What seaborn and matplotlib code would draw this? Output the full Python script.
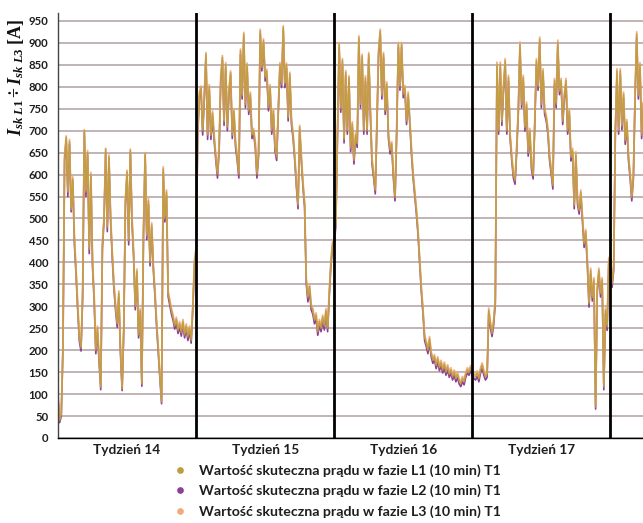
import numpy as np
import pandas as pd
import matplotlib
matplotlib.use("Agg")
import matplotlib.pyplot as plt
from matplotlib.lines import Line2D
import seaborn as sns

# RMS phase currents, 10-minute log resampled to 2-hour steps (84 samples per week)
weeks = ["Tydzień 14", "Tydzień 15", "Tydzień 16", "Tydzień 17"]
samples_per_week = 84

phase_l1 = [
    # week 14
    95, 40, 55, 210, 640, 685, 560, 675, 520, 590, 450, 380,
    300, 230, 205, 330, 700, 560, 650, 430, 600, 400, 320, 200,
    250, 180, 115, 440, 500, 658, 480, 640, 500, 420, 350, 300,
    260, 330, 200, 112, 250, 540, 606, 450, 655, 500, 420, 300,
    380, 235, 290, 123, 470, 648, 460, 540, 400, 485, 390, 330,
    260, 200, 140, 82, 613, 500, 560, 330, 310, 290, 275, 255,
    270, 245, 260, 240, 265, 235, 255, 230, 250, 222, 300, 400,
    # week 15
    430, 700, 783, 798, 700, 780, 874, 690, 800, 689, 740, 685,
    640, 601, 660, 820, 867, 720, 851, 708, 790, 832, 690, 745,
    670, 640, 601, 882, 780, 920, 760, 850, 745, 783, 690, 700,
    670, 601, 650, 927, 844, 905, 821, 836, 753, 800, 700, 745,
    662, 640, 750, 851, 806, 935, 806, 850, 730, 829, 722, 690,
    640, 580, 530, 708, 640, 579, 533, 360, 320, 345, 300, 290,
    268, 280, 242, 265, 250, 275, 255, 290, 250, 330, 400, 442,
    # week 16
    450, 490, 700, 897, 750, 860, 680, 833, 700, 821, 660, 715,
    632, 690, 670, 912, 760, 870, 700, 820, 700, 874, 745, 632,
    600, 564, 720, 880, 927, 780, 874, 745, 806, 690, 655, 670,
    600, 548, 700, 897, 800, 897, 783, 798, 722, 783, 722, 655,
    600, 560, 518, 470, 404, 340, 291, 230, 215, 200, 226, 192,
    177, 185, 165, 180, 160, 172, 155, 168, 150, 162, 145, 155,
    139, 150, 135, 145, 130, 124, 135, 128, 145, 155, 150, 160,
    # week 17
    150, 142, 139, 148, 135, 155, 166, 150, 139, 145, 291, 260,
    238, 265, 314, 851, 700, 851, 720, 800, 859, 700, 821, 690,
    640, 600, 586, 660, 750, 897, 760, 821, 707, 760, 650, 700,
    620, 598, 720, 859, 800, 908, 760, 836, 745, 730, 700, 640,
    609, 575, 814, 760, 901, 790, 814, 722, 780, 814, 700, 745,
    639, 655, 530, 647, 540, 518, 560, 500, 442, 470, 400, 306,
    382, 320, 360, 71, 340, 382, 329, 360, 116, 291, 253, 404,
    # week 18 (start)
    412, 351, 390, 700, 836, 700, 836, 710, 783, 677, 720, 640,
    600, 548, 600, 780, 920, 780, 850, 690, 760, 677, 700,
]

phase_l2 = [
    90, 35, 50, 200, 630, 680, 550, 670, 515, 585, 440, 370,
    290, 220, 198, 320, 695, 550, 645, 420, 595, 390, 310, 192,
    240, 172, 110, 430, 495, 650, 470, 635, 495, 410, 340, 292,
    252, 322, 192, 108, 242, 530, 600, 440, 650, 490, 412, 292,
    372, 228, 282, 118, 462, 642, 452, 532, 392, 478, 382, 322,
    252, 192, 135, 78, 605, 492, 552, 322, 302, 282, 268, 248,
    262, 238, 252, 232, 258, 228, 248, 222, 242, 216, 292, 392,
    420, 690, 775, 790, 690, 772, 866, 680, 792, 680, 732, 676,
    632, 592, 652, 812, 860, 712, 843, 700, 782, 825, 682, 737,
    662, 632, 592, 874, 772, 912, 752, 842, 737, 775, 682, 692,
    662, 592, 642, 920, 836, 897, 813, 828, 745, 792, 692, 737,
    654, 632, 742, 843, 798, 928, 798, 842, 722, 821, 714, 682,
    632, 572, 522, 700, 632, 571, 525, 352, 310, 336, 292, 282,
    260, 272, 234, 256, 242, 266, 246, 282, 242, 322, 392, 434,
    442, 482, 692, 890, 742, 852, 672, 825, 692, 813, 652, 707,
    624, 682, 662, 905, 752, 862, 692, 812, 692, 866, 737, 624,
    592, 556, 712, 872, 920, 772, 866, 737, 798, 682, 647, 662,
    592, 540, 692, 890, 792, 890, 775, 790, 714, 775, 714, 647,
    592, 552, 510, 462, 396, 332, 284, 222, 208, 192, 219, 185,
    170, 178, 158, 173, 153, 165, 148, 161, 143, 155, 138, 148,
    132, 143, 128, 138, 123, 117, 128, 121, 138, 148, 143, 153,
    143, 135, 132, 141, 128, 148, 159, 143, 132, 138, 283, 252,
    231, 258, 306, 843, 692, 843, 712, 792, 851, 692, 813, 682,
    632, 592, 578, 652, 742, 890, 752, 813, 699, 752, 642, 692,
    612, 590, 712, 851, 792, 900, 752, 828, 737, 722, 692, 632,
    601, 567, 806, 752, 893, 782, 806, 714, 772, 806, 692, 737,
    631, 647, 522, 639, 532, 510, 552, 492, 434, 462, 392, 298,
    374, 312, 352, 66, 332, 374, 321, 352, 110, 283, 245, 396,
    404, 343, 382, 692, 828, 692, 828, 702, 775, 669, 712, 632,
    592, 540, 592, 772, 912, 772, 842, 682, 752, 669, 692,
]

phase_l3 = [
    98, 45, 58, 205, 645, 688, 565, 680, 525, 595, 455, 385,
    305, 235, 210, 335, 702, 565, 655, 435, 605, 405, 325, 205,
    255, 185, 120, 445, 505, 660, 485, 645, 505, 425, 355, 305,
    265, 335, 205, 118, 255, 545, 610, 455, 658, 505, 425, 305,
    385, 240, 295, 128, 475, 650, 465, 545, 405, 490, 395, 335,
    265, 205, 145, 88, 618, 505, 565, 335, 315, 295, 280, 260,
    275, 250, 265, 245, 270, 240, 260, 235, 255, 228, 305, 405,
    435, 705, 788, 802, 705, 785, 878, 695, 805, 694, 745, 690,
    645, 606, 665, 825, 871, 725, 855, 713, 795, 836, 695, 750,
    675, 645, 606, 886, 785, 924, 765, 854, 750, 788, 695, 705,
    675, 606, 655, 931, 848, 909, 826, 840, 758, 805, 705, 750,
    667, 645, 755, 855, 811, 939, 811, 854, 735, 833, 727, 695,
    645, 585, 535, 712, 645, 584, 538, 365, 325, 350, 305, 295,
    273, 285, 247, 270, 255, 280, 260, 295, 255, 335, 405, 446,
    455, 495, 705, 901, 755, 864, 685, 837, 705, 825, 665, 720,
    637, 695, 675, 916, 765, 874, 705, 825, 705, 878, 750, 637,
    605, 569, 725, 884, 931, 785, 878, 750, 811, 695, 660, 675,
    605, 553, 705, 901, 805, 901, 788, 803, 727, 788, 727, 660,
    605, 565, 523, 475, 409, 345, 296, 235, 220, 205, 231, 197,
    182, 190, 170, 185, 165, 177, 160, 173, 155, 167, 150, 160,
    144, 155, 140, 150, 135, 129, 140, 133, 150, 160, 155, 165,
    155, 147, 144, 153, 140, 160, 171, 155, 144, 150, 296, 265,
    243, 270, 319, 856, 705, 856, 725, 805, 864, 705, 826, 695,
    645, 605, 591, 665, 755, 902, 765, 826, 712, 765, 655, 705,
    625, 603, 725, 864, 805, 913, 765, 841, 750, 735, 705, 645,
    614, 580, 819, 765, 906, 795, 819, 727, 785, 819, 705, 750,
    644, 660, 535, 652, 545, 523, 565, 505, 447, 475, 405, 311,
    387, 325, 365, 76, 345, 387, 334, 365, 121, 296, 258, 409,
    417, 356, 395, 705, 841, 705, 841, 715, 788, 682, 725, 645,
    605, 553, 605, 785, 925, 785, 855, 695, 765, 682, 705,
]

legend_labels = [
    "Wartość skuteczna prądu w fazie L1 (10 min) T1",
    "Wartość skuteczna prądu w fazie L2 (10 min) T1",
    "Wartość skuteczna prądu w fazie L3 (10 min) T1",
]
phase_colors = {"L1": "#bf9d3e", "L2": "#8e3f98", "L3": "#f0aa7c"}

t = np.arange(len(phase_l1)) / samples_per_week
df = pd.concat([
    pd.DataFrame({"t": t, "I": phase_l2, "faza": "L2"}),
    pd.DataFrame({"t": t, "I": phase_l3, "faza": "L3"}),
    pd.DataFrame({"t": t, "I": phase_l1, "faza": "L1"}),
])

sns.set_theme(style="white")
plt.rcParams["font.family"] = ["Lato", "DejaVu Sans"]
plt.rcParams["mathtext.fontset"] = "custom"
plt.rcParams["mathtext.it"] = "Liberation Serif:italic:bold"
plt.rcParams["mathtext.rm"] = "Liberation Serif:bold"
plt.rcParams["mathtext.bf"] = "Liberation Serif:bold"

W, H = 643, 523
fig = plt.figure(figsize=(W / 100, H / 100), dpi=100)
ax = fig.add_axes([58 / W, (H - 438) / H, (W - 58) / W, (438 - 13) / H])

# purple underneath, peach next, gold on top
for phase, width, alpha in (("L2", 1.2, 1.0), ("L3", 1.3, 0.9), ("L1", 1.1, 0.9)):
    sns.lineplot(data=df[df["faza"] == phase], x="t", y="I", color=phase_colors[phase],
                 linewidth=width, alpha=alpha, ax=ax, legend=False, estimator=None)

x_right = (W - 58) / 138.1
ax.set_xlim(0, x_right)
ax.set_ylim(0, 968)
ax.set_yticks(np.arange(0, 951, 50))
ax.yaxis.grid(True, color="#bcaeae", linewidth=1.3)
ax.xaxis.grid(False)
ax.set_axisbelow(True)

for b in range(1, 5):
    ax.axvline(b, color="black", linewidth=2.0, zorder=5)

ax.set_xticks(np.arange(len(weeks)) + 0.5)
ax.set_xticklabels(weeks, fontsize=9.8, fontweight="bold", color="#1e1e1e")
ax.set_xticks(np.arange(1, 5), minor=True)
ax.tick_params(axis="x", which="major", length=0, pad=4)
ax.tick_params(axis="x", which="minor", length=6, width=2, color="black", direction="out")
ax.tick_params(axis="y", length=0, pad=7, labelsize=8.2, labelcolor="#1e1e1e")
for lab in ax.get_yticklabels():
    lab.set_fontweight("bold")
ax.set_xlabel("")
ax.set_ylabel("")

for side in ("top", "right"):
    ax.spines[side].set_visible(False)
ax.spines["left"].set_color("#444444")
ax.spines["left"].set_linewidth(1.0)
ax.spines["bottom"].set_color("black")
ax.spines["bottom"].set_linewidth(1.0)

fig.text(16 / W, 1 - 77 / H, r"$I_{sk\ L1} \div I_{sk\ L3}$ [A]", rotation=90,
         ha="center", va="center", fontsize=13, fontfamily="Liberation Serif",
         fontweight="bold", color="#111111")

handles = [Line2D([], [], marker="o", linestyle="", markersize=3.8,
                  color=phase_colors[p]) for p in ("L1", "L2", "L3")]
fig.legend(handles, legend_labels, loc="upper left",
           bbox_to_anchor=(166 / W, 1 - 457 / H), frameon=False,
           handlelength=1.0, handletextpad=0.85, labelspacing=0.55,
           borderpad=0, prop={"family": "Lato", "weight": "bold", "size": 10.2},
           labelcolor="#1e1e1e")

fig.savefig("out.png", dpi=100)
